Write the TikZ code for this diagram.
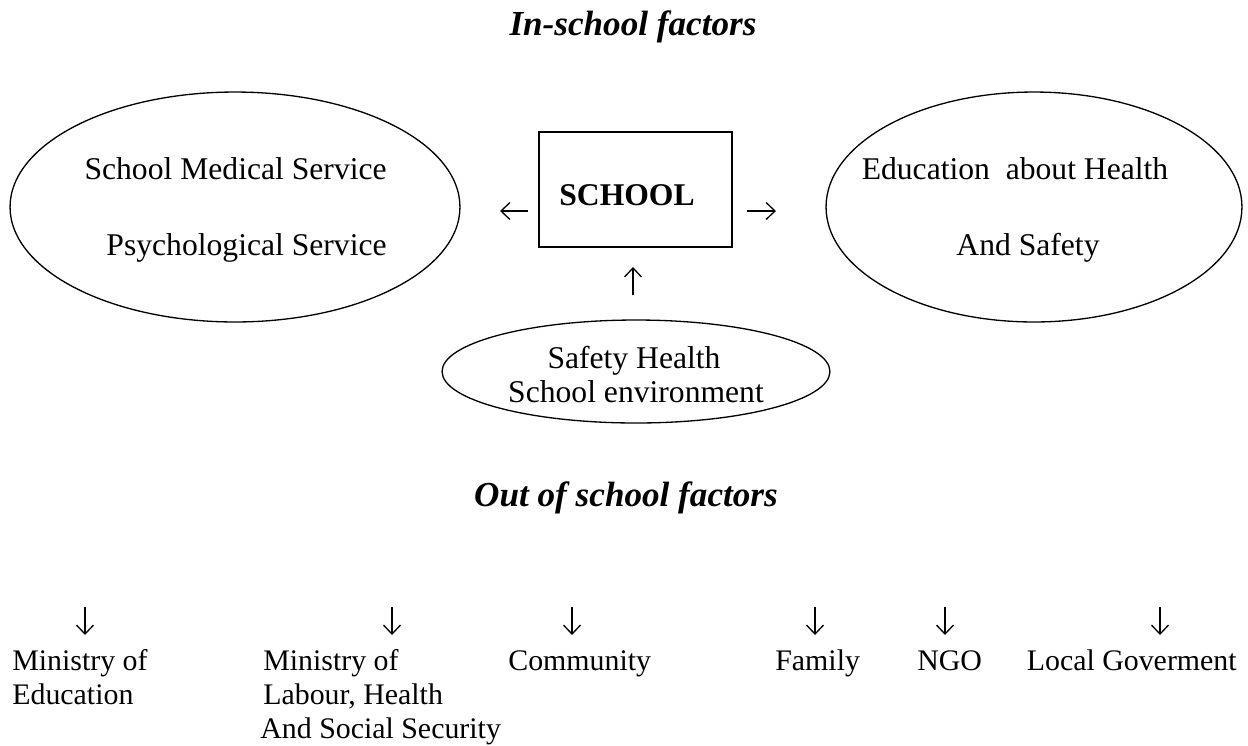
\documentclass[tikz,border=0pt]{standalone}
\usepackage{fontspec}
\setmainfont{Liberation Serif}
\usetikzlibrary{shapes.geometric,arrows.meta}
\begin{document}
\begin{tikzpicture}[x=0.02cm,y=-0.02cm,
  txt/.style={inner sep=0pt,font=\fontsize{17}{20}\selectfont},
  big/.style={inner sep=0pt,font=\fontsize{18}{21}\selectfont},
  ttl/.style={inner sep=0pt,font=\fontsize{20}{24}\selectfont\bfseries\itshape},
  arrowline/.style={line width=0.75pt,-{Straight Barb[length=1.8mm,width=3.4mm]}},
  oval/.style={draw,ellipse,line width=0.75pt,inner sep=0pt}]
\useasboundingbox (0,0) rectangle (1248,745);
% titles
\node[ttl,anchor=base] (t1) at (633,35) {In-school factors};
\node[ttl,anchor=base] (t2) at (626,506) {Out of school factors};
% ellipses
\node[oval,minimum width=9cm,minimum height=4.6cm] (eL) at (235,207) {};
\node[oval,minimum width=8.32cm,minimum height=4.6cm] (eR) at (1034,207) {};
\node[oval,minimum width=7.76cm,minimum height=2.06cm] (eB) at (636,371.5) {};
% box
\node[draw,line width=0.75pt,minimum width=3.86cm,minimum height=2.3cm,inner sep=0pt] (box) at (635.5,189.5) {};
\node[big,anchor=base,font=\fontsize{18}{21}\selectfont\bfseries] (school) at (627,205) {SCHOOL};
% ellipse texts
\node[big,anchor=base east] (l1) at (387,179) {School Medical Service};
\node[big,anchor=base east] (l2) at (387,255) {Psychological Service};
\node[big,anchor=base] (r1) at (1015,179) {Education\ \ about Health};
\node[big,anchor=base] (r2) at (1028,255) {And Safety};
\node[big,anchor=base] (b1) at (634,368) {Safety Health};
\node[big,anchor=base] (b2) at (636,402) {School environment};
% arrows around school
\coordinate (aL1) at (528,211); \coordinate (aL2) at (500,211);
\coordinate (aR1) at (747,211); \coordinate (aR2) at (776,211);
\coordinate (aU1) at (633,295); \coordinate (aU2) at (633,267);
\draw[arrowline] (aL1) -- (aL2);
\draw[arrowline] (aR1) -- (aR2);
\draw[arrowline] (aU1) -- (aU2);
% bottom labels
\node[txt,anchor=base west] (m1a) at (12,670) {Ministry of};
\node[txt,anchor=base west] (m1b) at (12,704) {Education};
\node[txt,anchor=base west] (m2a) at (263,670) {Ministry of};
\node[txt,anchor=base west] (m2b) at (263,704) {Labour, Health};
\node[txt,anchor=base west] (m2c) at (260,738) {And Social Security};
\node[txt,anchor=base west] (c) at (508,670) {Community};
\node[txt,anchor=base west] (f) at (775,670) {Family};
\node[txt,anchor=base west] (n) at (917,670) {NGO};
\node[txt,anchor=base east] (lg) at (1237,670) {Local Goverment};
% bottom arrows
\foreach \i/\x in {1/85,2/392,3/572,4/815,5/945,6/1160}{
  \coordinate (d\i s) at (\x,607); \coordinate (d\i e) at (\x,635);
  \draw[arrowline] (d\i s) -- (d\i e);
}
\end{tikzpicture}
\end{document}
